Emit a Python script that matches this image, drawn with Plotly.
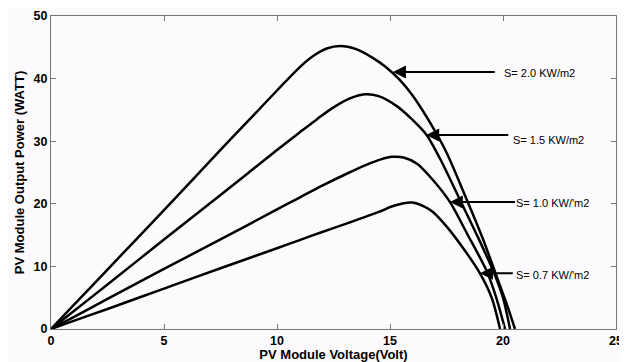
import plotly.graph_objects as go

# --- data ---
v_20 = [0, 1, 2.5, 5, 7.5, 9, 10.0, 11.0, 11.6, 12.2, 12.8, 13.5, 14.2, 14.8, 15.4, 16.0, 16.8, 17.5, 18.3, 19.1, 19.8, 20.2, 20.53]
p_20 = [0, 3.8, 9.5, 19.0, 28.6, 34.3, 38.1, 41.8, 43.6, 44.8, 45.2, 44.7, 43.4, 41.9, 39.9, 37.3, 32.8, 28.2, 21.5, 14.5, 7.6, 3.6, 0]

v_15 = [0, 1, 2.5, 5, 7.5, 10.0, 11.0, 11.8, 12.5, 13.2, 13.9, 14.5, 15.3, 16.0, 16.62, 17.3, 18.1, 18.9, 19.6, 20.0, 20.31]
p_15 = [0, 2.85, 7.1, 14.3, 21.4, 28.6, 31.4, 33.6, 35.4, 36.8, 37.5, 37.2, 35.6, 33.4, 31.0, 26.6, 20.6, 14.6, 9.0, 5.0, 0]

v_10 = [0, 1, 2.5, 5, 7.5, 10, 11, 12, 13.2, 14.0, 14.6, 15.1, 15.6, 16.2, 16.9, 17.65, 18.4, 19.3, 19.7, 20.09]
p_10 = [0, 1.9, 4.8, 9.6, 14.3, 19.1, 21.0, 22.9, 25.0, 26.3, 27.1, 27.5, 27.4, 26.4, 23.8, 20.3, 15.3, 9.1, 5.0, 0]

v_07 = [0, 1, 2.5, 5, 7.5, 10, 11, 12, 13.2, 14.5, 15.1, 15.6, 16.0, 16.5, 16.9, 17.5, 18.2, 18.98, 19.5, 19.87]
p_07 = [0, 1.3, 3.2, 6.45, 9.7, 12.9, 14.2, 15.5, 17.0, 18.7, 19.6, 20.1, 20.2, 19.6, 18.7, 16.4, 13.1, 8.9, 5.0, 0]

labels = ["S= 2.0 KW/m2", "S= 1.5 KW/m2", "S= 1.0 KW/'m2", "S= 0.7 KW/'m2"]
label_pos = [(21.6, 40.9), (22.0, 30.2), (22.2, 20.1), (22.2, 8.6)]
arrow_tip = [(15.13, 41.05), (16.6, 31.0), (17.65, 20.3), (18.98, 8.9)]
arrow_tail = [(19.7, 41.05), (20.3, 31.0), (20.6, 20.3), (20.5, 8.9)]

x_ticks = [0, 5, 10, 15, 20, 25]
y_ticks = [0, 10, 20, 30, 40, 50]

fig = go.Figure()
for v, p in [(v_20, p_20), (v_15, p_15), (v_10, p_10), (v_07, p_07)]:
    fig.add_trace(go.Scatter(x=v, y=p, mode="lines",
                             line=dict(color="black", width=2.5, shape="spline", smoothing=0.8),
                             showlegend=False, hoverinfo="skip"))

for lab, (lx, ly), (tx, ty), (ax, ay) in zip(labels, label_pos, arrow_tip, arrow_tail):
    fig.add_annotation(x=tx, y=ty, ax=ax, ay=ay, xref="x", yref="y", axref="x", ayref="y",
                       text="", showarrow=True, arrowhead=2, arrowsize=1.3, arrowwidth=2,
                       arrowcolor="black")
    fig.add_annotation(x=lx, y=ly, xref="x", yref="y", text=lab, showarrow=False,
                       font=dict(family="Liberation Sans Narrow, Arial Narrow, Liberation Sans", size=11, color="black"))

axis_common = dict(showgrid=False, zeroline=False, showline=True, linecolor="#777", linewidth=1,
                   mirror="ticks", ticks="inside", ticklen=5, tickcolor="#777", automargin=False,
                   tickfont=dict(family="Liberation Sans", size=12.5, color="black", weight="bold"))

fig.update_xaxes(range=[0, 25], tickvals=x_ticks, ticktext=[str(t) for t in x_ticks],
                 title=dict(text="PV Module Voltage(Volt)", standoff=4,
                            font=dict(family="Liberation Sans", size=13, color="black", weight="bold")),
                 **axis_common)
fig.update_yaxes(range=[0, 50], tickvals=y_ticks, ticktext=[str(t) for t in y_ticks],
                 title=dict(text="PV Module Output Power (WATT)", standoff=6,
                            font=dict(family="Liberation Sans", size=13, color="black", weight="bold")),
                 **axis_common)

# page body has an 8px margin, so the figure is sized to fill the rest of the window
fig.update_layout(width=619, height=354, margin=dict(l=43, r=11, t=8, b=33),
                  paper_bgcolor="#fdfafd", plot_bgcolor="#fdfafd")

fig.write_html("out.html")
